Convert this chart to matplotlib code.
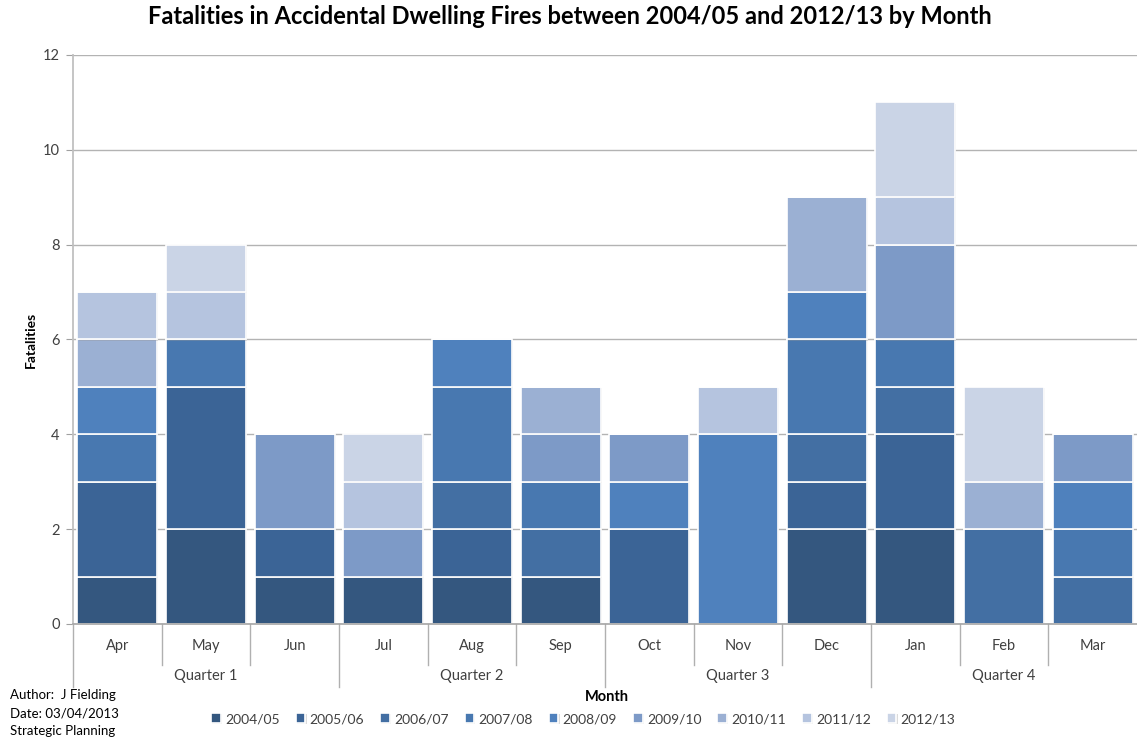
import matplotlib
matplotlib.use("Agg")
import matplotlib.pyplot as plt
import matplotlib.patheffects as pe
from matplotlib.transforms import blended_transform_factory
import numpy as np

plt.rcParams['font.family'] = ['Lato', 'DejaVu Sans']

months = ["Apr", "May", "Jun", "Jul", "Aug", "Sep", "Oct", "Nov", "Dec", "Jan", "Feb", "Mar"]
quarters = ["Quarter 1", "Quarter 2", "Quarter 3", "Quarter 4"]
years = ["2004/05", "2005/06", "2006/07", "2007/08", "2008/09",
         "2009/10", "2010/11", "2011/12", "2012/13"]

fy_2004_05 = [1, 2, 1, 1, 1, 1, 0, 0, 2, 2, 0, 0]
fy_2005_06 = [2, 3, 1, 0, 1, 0, 2, 0, 1, 2, 0, 0]
fy_2006_07 = [0, 0, 0, 0, 1, 1, 0, 0, 1, 1, 2, 1]
fy_2007_08 = [1, 1, 0, 0, 2, 1, 0, 0, 2, 1, 0, 1]
fy_2008_09 = [1, 0, 0, 0, 1, 0, 1, 4, 1, 0, 0, 1]
fy_2009_10 = [0, 0, 2, 1, 0, 1, 1, 0, 0, 2, 0, 1]
fy_2010_11 = [1, 0, 0, 0, 0, 1, 0, 0, 2, 0, 1, 0]
fy_2011_12 = [1, 1, 0, 1, 0, 0, 0, 1, 0, 1, 0, 0]
fy_2012_13 = [0, 1, 0, 1, 0, 0, 0, 0, 0, 2, 2, 0]

series = [fy_2004_05, fy_2005_06, fy_2006_07, fy_2007_08, fy_2008_09,
          fy_2009_10, fy_2010_11, fy_2011_12, fy_2012_13]
colors = ["#34577f", "#3b6496", "#436fa3", "#4878b0", "#4f81bd",
          "#7d9ac7", "#9bb0d3", "#b5c4df", "#cad4e6"]

fig = plt.figure(figsize=(11.37, 7.40), dpi=100)
ax = fig.add_axes([0.0642, 0.1568, 0.9358, 0.7689])

x = np.arange(len(months))
bottom = np.zeros(len(months))
shadow = [pe.SimplePatchShadow(offset=(0.8, -0.8), shadow_rgbFace="#999999", alpha=0.35),
          pe.Normal()]
for name, vals, col in zip(years, series, colors):
    v = np.array(vals, dtype=float)
    ax.bar(x, v, 0.9, bottom=bottom, color=col, edgecolor="white",
           linewidth=1.2, label=name, zorder=3, path_effects=shadow)
    bottom += v

ax.set_xlim(-0.5, 11.5)
ax.set_ylim(0, 12)
ax.set_yticks(range(0, 13, 2))
ax.yaxis.grid(True, color="#b3b3b3", linewidth=1.0, zorder=0)
ax.set_axisbelow(True)
for s in ["top", "right", "bottom"]:
    ax.spines[s].set_visible(False)
ax.spines["left"].set_color("#c0c0c0")
ax.spines["left"].set_linewidth(1.3)
ax.tick_params(axis="y", length=5, color="#a0a0a0", labelsize=10.5,
               labelcolor="#404040", pad=4.5)
ax.set_xticks([])
ax.set_ylabel("Fatalities", fontsize=10, fontweight="bold", labelpad=4)

# Two-level category axis: months and quarters
tr = blended_transform_factory(ax.transData, ax.transAxes)
ax.plot([-0.5, 11.5], [0, 0], transform=tr, color="#a6a6a6", lw=1.2, clip_on=False, zorder=4)
for i in range(12):
    xb = i - 0.5
    depth = -0.111 if i % 3 == 0 else -0.072
    ax.plot([xb, xb], [0, depth], transform=tr, color="#b0b0b0", lw=1.0, clip_on=False)
for i, m in enumerate(months):
    ax.text(i, -0.039, m, transform=tr, ha="center", va="center",
            fontsize=10.5, color="#404040")
for q, name in enumerate(quarters):
    ax.text(q * 3 + 1, -0.091, name, transform=tr, ha="center", va="center",
            fontsize=10.5, color="#404040")

fig.text(0.534, 1 - 697 / 740, "Month", ha="center", va="center",
         fontsize=10.5, fontweight="bold")
fig.text(0.501, 1 - 17 / 740,
         "Fatalities in Accidental Dwelling Fires between 2004/05 and 2012/13 by Month",
         ha="center", va="center", fontsize=17, fontweight="bold")

fig.text(0.009, 1 - 695 / 740, "Author:  J Fielding", ha="left", va="center", fontsize=9.5)
fig.text(0.009, 1 - 713 / 740, "Date: 03/04/2013", ha="left", va="center", fontsize=9.5)
fig.text(0.009, 1 - 731 / 740, "Strategic Planning", ha="left", va="center", fontsize=9.5)

handles, labels = ax.get_legend_handles_labels()
leg = fig.legend(handles, labels, loc="center", bbox_to_anchor=(0.513, 1 - 719 / 740),
                 ncol=9, frameon=False, fontsize=10, handlelength=0.7,
                 handleheight=0.7, handletextpad=0.3, columnspacing=1.15)
for t in leg.get_texts():
    t.set_color("#404040")

fig.savefig("out.png", dpi=100)
